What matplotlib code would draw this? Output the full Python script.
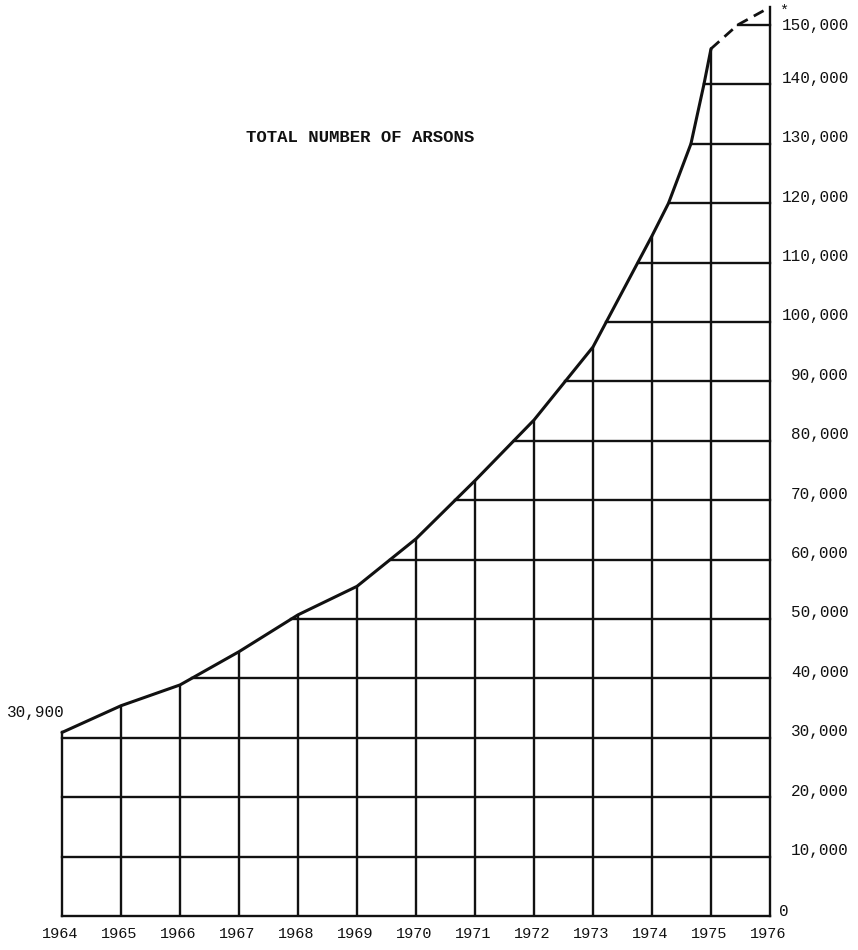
import numpy as np
import matplotlib
matplotlib.use("Agg")
import matplotlib.pyplot as plt

# ---- data ----
years = [1964, 1965, 1966, 1967, 1968, 1969, 1970, 1971, 1972, 1973, 1974, 1975, 1976]
arsons = [30900, 35400, 38900, 44500, 50700, 55500, 63500, 73300, 83500, 95800, 114500, 146000, 153000]

# the drawn curve: yearly values plus the points where its steep end crosses grid lines
curve_x = [1964.0, 1965.0, 1966.0, 1967.0, 1968.0, 1969.0, 1970.0, 1971.0, 1972.0,
           1973.0, 1974.0, 1974.28, 1974.66, 1974.88, 1975.0]
curve_y = [30900, 35400, 38900, 44500, 50700, 55500, 63500, 73300, 83500,
           95800, 114500, 120000, 130000, 140000, 146000]
# dashed estimate for 1976
est_x = [1975.0, 1975.45, 1976.0]
est_y = [146000, 150000, 153000]

y_levels = [0, 10000, 20000, 30000, 40000, 50000, 60000, 70000, 80000, 90000,
            100000, 110000, 120000, 130000, 140000, 150000]
y_labels = ["0", "10,000", "20,000", "30,000", "40,000", "50,000", "60,000", "70,000",
            "80,000", "90,000", "100,000", "110,000", "120,000", "130,000", "140,000", "150,000"]
year_labels = [str(y) for y in years]
title = "TOTAL NUMBER OF ARSONS"
start_label = "30,900"

FONT = "Liberation Mono"
W, H = 858, 950
fig = plt.figure(figsize=(W / 100, H / 100), dpi=100)
ax = fig.add_axes([0, 0, 1, 1])
ax.set_axis_off()

# pixel mapping: 1964 -> x=62, 1976 -> x=770 ; 0 -> y=916, 59.4 px per 10,000
pxyr = (770 - 62) / 12.0
ax.set_xlim(1964 - 62 / pxyr, 1964 + (W - 62) / pxyr)
pxv = 59.4 / 10000.0
ax.set_ylim(-(H - 916) / pxv, 916 / pxv)

all_x = np.array(curve_x + est_x[1:], dtype=float)
all_y = np.array(curve_y + est_y[1:], dtype=float)
lw_grid = 1.7
col = "#111111"

# frame: bottom, left, right
ax.plot([years[0], years[-1]], [0, 0], color=col, lw=lw_grid)
ax.plot([years[0], years[0]], [0, arsons[0]], color=col, lw=lw_grid)
ax.plot([years[-1], years[-1]], [0, arsons[-1]], color=col, lw=lw_grid)

# vertical lines under the curve
ax.vlines(years[1:-1], 0, arsons[1:-1], color=col, lw=lw_grid)

# horizontal lines from the curve to the right edge
for L in y_levels[1:]:
    if L <= arsons[0]:
        xs = years[0]
    else:
        xs = np.interp(L, all_y, all_x)
    ax.plot([xs, years[-1]], [L, L], color=col, lw=lw_grid)

# curve: solid up to 1975, dashed to 1976
ax.plot(curve_x, curve_y, color=col, lw=2.2, solid_joinstyle="round", solid_capstyle="round")
ax.plot(est_x, est_y, color=col, lw=2.0, linestyle=(0, (4, 2.5)))

# right-hand value labels
for L, lab in zip(y_levels, y_labels):
    if lab == "0":
        ax.annotate(lab, (years[-1], L), xytext=(9, 4), textcoords="offset pixels",
                    ha="left", va="center", fontsize=11.5, family=FONT, color=col)
    else:
        dy = -1 if L == 150000 else 6
        ax.annotate(lab, (years[-1], L), xytext=(79, dy), textcoords="offset pixels",
                    ha="right", va="center", fontsize=11.5, family=FONT, color=col)

# year labels
for yv, lab in zip(years, year_labels):
    ax.annotate(lab, (yv, 0), xytext=(-2, -18), textcoords="offset pixels",
                ha="center", va="center", fontsize=11, family=FONT, color=col)

# start value label
ax.annotate(start_label, (years[0], arsons[0]), xytext=(-26, 20), textcoords="offset pixels",
            ha="center", va="center", fontsize=11.5, family=FONT, color=col)

# asterisk at the 1976 estimate
ax.annotate("*", (years[-1], arsons[-1]), xytext=(14, -4), textcoords="offset pixels",
            ha="center", va="center", fontsize=11, family=FONT, color=col)

# title
fig.text(360 / W, 1 - 138 / H, title, ha="center", va="center",
         fontsize=12.5, family=FONT, fontweight="bold", color=col)

fig.savefig("out.png", dpi=100, facecolor="white")
